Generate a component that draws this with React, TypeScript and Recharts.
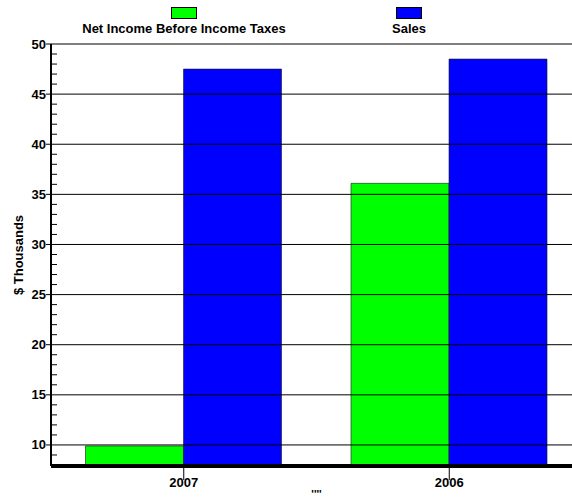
import { BarChart, Bar, XAxis, YAxis, ReferenceLine, Legend } from 'recharts';

const years = ['2007', '2006'];
const netIncome = [9.9, 36.1];
const sales = [47.5, 48.5];
const majorTicks = [10, 15, 20, 25, 30, 35, 40, 45, 50];
const allTicks = [8, 9, 10, 11, 12, 13, 14, 15, 16, 17, 18, 19, 20, 21, 22, 23, 24, 25, 26, 27, 28, 29, 30, 31, 32, 33, 34, 35, 36, 37, 38, 39, 40, 41, 42, 43, 44, 45, 46, 47, 48, 49, 50];

const data = years.map((y, i) => ({ year: y, net: netIncome[i], sales: sales[i] }));

const font = '"Liberation Sans", Arial, sans-serif';

const YTick = (props: any) => {
  const { x, y, payload } = props;
  const major = payload.value % 5 === 0;
  if (major) {
    return (
      <g>
        <line x1={x - 5} x2={x} y1={y} y2={y} stroke="#000" />
        <text x={x - 5} y={y} dy={4.5} textAnchor="end" fontSize={13} fontWeight="bold" fontFamily={font} fill="#000">
          {payload.value}
        </text>
      </g>
    );
  }
  return <line x1={x} x2={x + 6} y1={y} y2={y} stroke="#000" />;
};

const XTick = (props: any) => {
  const { x, y, payload } = props;
  return (
    <g>
      <line x1={x} x2={x} y1={y - 8} y2={y + 6} stroke="#000" />
      <text x={x} y={y + 13} textAnchor="middle" fontSize={13} fontWeight="bold" fontFamily={font} fill="#000">
        {payload.value}
      </text>
    </g>
  );
};

const LegendContent = () => {
  const items = [
    { name: 'Net Income Before Income Taxes', color: '#00ff00', center: 184 },
    { name: 'Sales', color: '#0000ff', center: 409 },
  ];
  return (
    <div style={{ position: 'relative', width: 572, height: 40 }}>
      {items.map((it) => (
        <div key={it.name} style={{ position: 'absolute', left: it.center - 130, width: 260, top: 7, textAlign: 'center', fontFamily: font, fontSize: 13, fontWeight: 'bold', lineHeight: '15px' }}>
          <div style={{ width: 24, height: 10, background: it.color, border: '1px solid #000', margin: '0 auto 2px' }} />
          {it.name}
        </div>
      ))}
    </div>
  );
};

export default function App() {
  return (
    <div style={{ position: 'fixed', left: 0, top: 0, width: 572, height: 499, overflow: 'hidden', background: '#fff' }}>
      <BarChart
        width={592}
        height={499}
        data={data}
        margin={{ top: 4, right: 10, bottom: 11, left: 0 }}
        barCategoryGap="13%"
        barGap={0}
      >
        <Legend content={<LegendContent />} verticalAlign="top" wrapperStyle={{ top: 0, left: 0 }} />
        {majorTicks.map((t) => (
          <ReferenceLine key={t} y={t} stroke="#000" strokeWidth={1} />
        ))}
        <XAxis
          dataKey="year"
          height={22}
          axisLine={{ stroke: '#000', strokeWidth: 4 }}
          tickLine={false}
          tick={<XTick />}
          label={{ value: "''''", position: 'insideBottom', offset: -10, fontSize: 11, fontWeight: 'bold', fill: '#000', fontFamily: font }}
        />
        <YAxis
          width={51}
          domain={[7.9, 50]}
          ticks={allTicks}
          interval={0}
          allowDataOverflow
          tickLine={false}
          tickSize={0}
          tickMargin={0}
          axisLine={{ stroke: '#000', strokeWidth: 2 }}
          tick={<YTick />}
          label={{ value: '$ Thousands', angle: -90, position: 'insideLeft', offset: 18, fontSize: 13, fontWeight: 'bold', fill: '#000', fontFamily: font, style: { textAnchor: 'middle' } }}
        />
        <Bar dataKey="net" name="Net Income Before Income Taxes" fill="#00ff00" stroke="#1a1a1a" strokeWidth={0.6} isAnimationActive={false} />
        <Bar dataKey="sales" name="Sales" fill="#0000ff" stroke="#1a1a1a" strokeWidth={0.6} isAnimationActive={false} />
      </BarChart>
    </div>
  );
}
